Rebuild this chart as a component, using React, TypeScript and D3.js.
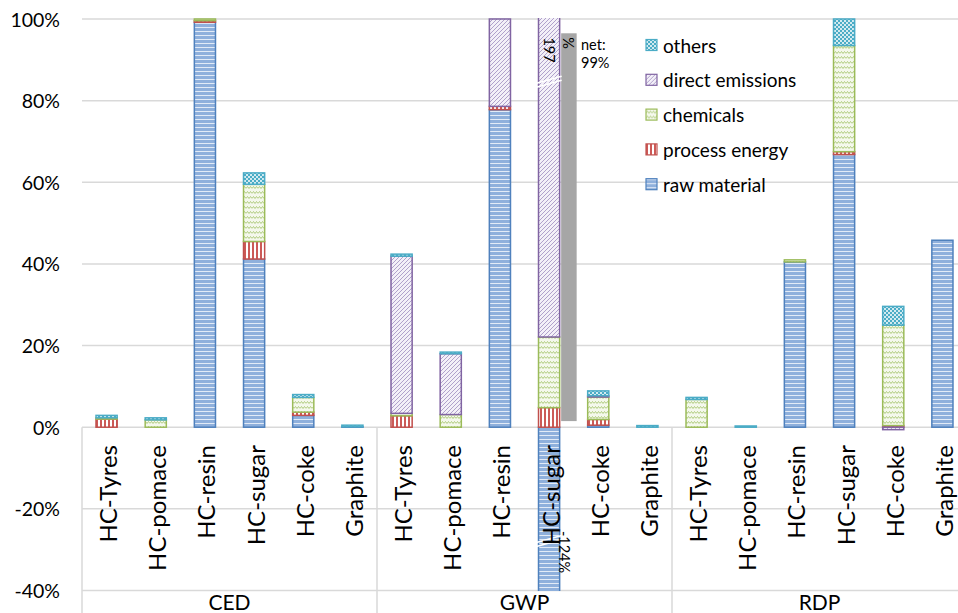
import React from "react";
import * as d3 from "d3";

const groups = ["CED", "GWP", "RDP"];
const materials = ["HC-Tyres", "HC-pomace", "HC-resin", "HC-sugar", "HC-coke", "Graphite"];

// values in % , group-major (CED x6, GWP x6, RDP x6)
const rawMaterial = [0, 0, 99.2, 41.2, 2.9, 0.1, 0, 0, 77.8, -124, 0.5, 0, 0, 0, 40.5, 66.8, 0, 45.8];
const processEnergy = [2.0, 0, 0.4, 4.3, 0.8, 0, 2.8, 0, 0.8, 4.8, 1.4, 0, 0, 0, 0, 0.7, 0.4, 0];
const chemicals = [0.3, 1.8, 0.4, 14.0, 3.6, 0, 0.6, 3.1, 0, 17.3, 5.5, 0, 6.8, 0, 0.5, 26.0, 24.6, 0];
const directEmissions = [0, 0, 0, 0, 0, 0, 38.5, 14.9, 21.4, 197, 0.3, 0, 0, 0, 0, 0, -0.6, 0];
const others = [0.6, 0.5, 0, 2.8, 0.7, 0.4, 0.5, 0.4, 0, 4, 1.2, 0.4, 0.5, 0.3, 0, 6.5, 4.6, 0];

const yTicks = [-40, -20, 0, 20, 40, 60, 80, 100];

// net bar next to GWP HC-sugar
const netLabel = ["net:", "99%"];
const netBar = [1.5, 96.5];
const breakValues = [85, -27.5];

const series = [
  { key: "raw", label: "raw material", color: "#4f81bd", values: rawMaterial },
  { key: "process", label: "process energy", color: "#c0504d", values: processEnergy },
  { key: "chemicals", label: "chemicals", color: "#9bbb59", values: chemicals },
  { key: "direct", label: "direct emissions", color: "#8064a2", values: directEmissions },
  { key: "others", label: "others", color: "#4bacc6", values: others },
];

const FONT = "Lato, 'Open Sans', sans-serif";

export default function App() {
  const y = d3.scaleLinear().domain([-40, 100]).range([590.5, 19]);
  const xGroup = d3.scaleBand<string>().domain(groups).range([82, 967]);
  const xMat = d3
    .scaleBand<string>()
    .domain(materials)
    .range([0, xGroup.bandwidth()])
    .paddingInner(0.57)
    .paddingOuter(0.285);

  const rows = groups.flatMap((g, gi) =>
    materials.map((m, mi) => {
      const i = gi * materials.length + mi;
      const row: any = { group: g, material: m };
      series.forEach(s => (row[s.key] = s.values[i]));
      return row;
    })
  );

  const stacked = d3
    .stack<any>()
    .keys(series.map(s => s.key))
    .offset(d3.stackOffsetDiverging)(rows);

  const barX = (r: any) => (xGroup(r.group) as number) + (xMat(r.material) as number);
  const bw = xMat.bandwidth();

  const sugarGWP = rows.find(r => r.group === "GWP" && r.material === "HC-sugar");
  const sx = barX(sugarGWP);

  return (
    <svg width={958} height={613} style={{ position: "absolute", left: 0, top: 0, fontFamily: FONT }}>
      <defs>
        <clipPath id="plot">
          <rect x={82} y={18} width={876} height={573} />
        </clipPath>
        <pattern id="p-raw" width="6" height="4" patternUnits="userSpaceOnUse">
          <rect width="6" height="4" fill="#8fb0dc" />
          <rect y="3" width="6" height="1" fill="#e2ebf7" />
        </pattern>
        <pattern id="p-process" width="4" height="4" patternUnits="userSpaceOnUse">
          <rect width="4" height="4" fill="#fff" />
          <rect width="2" height="4" fill="#cc5a57" />
        </pattern>
        <pattern id="p-chemicals" width="6" height="5" patternUnits="userSpaceOnUse">
          <rect width="6" height="5" fill="#f4f8ec" />
          <path d="M0,3.5 L1.5,1.5 L3,3.5 L4.5,1.5 L6,3.5" fill="none" stroke="#a9c673" strokeWidth="0.9" />
        </pattern>
        <pattern id="p-direct" width="4" height="4" patternUnits="userSpaceOnUse">
          <rect width="4" height="4" fill="#f3f0f8" />
          <path d="M-1,1 l2,-2 M0,4 l4,-4 M3,5 l2,-2" stroke="#b0a1cb" strokeWidth="1" />
        </pattern>
        <pattern id="p-others" width="4" height="4" patternUnits="userSpaceOnUse">
          <rect width="4" height="4" fill="#4bacc6" />
          <circle cx="1" cy="1" r="1" fill="#fff" />
          <circle cx="3" cy="3" r="1" fill="#fff" />
        </pattern>
      </defs>

      {/* gridlines */}
      {yTicks.map(t => (
        <g key={t}>
          <line x1={82} x2={958} y1={y(t)} y2={y(t)} stroke="#d9d9d9" strokeWidth={1.5} />
          <text x={60} y={y(t)} textAnchor="end" dominantBaseline="central" fontSize={19.5}>
            {t}%
          </text>
        </g>
      ))}
      {/* group separators */}
      {groups.map(g => (
        <line key={g} x1={xGroup(g)} x2={xGroup(g)} y1={y(0)} y2={613} stroke="#d9d9d9" strokeWidth={1.5} />
      ))}

      {/* bars */}
      <g clipPath="url(#plot)">
        {stacked.map((layer, li) =>
          layer.map((d, i) => {
            const h = Math.abs(y(d[0]) - y(d[1]));
            if (h < 0.01) return null;
            return (
              <rect
                key={li + "-" + i}
                x={barX(rows[i])}
                y={Math.min(y(d[0]), y(d[1]))}
                width={bw}
                height={h}
                fill={`url(#p-${series[li].key})`}
                stroke={series[li].color}
                strokeWidth={1.5}
              />
            );
          })
        )}
      </g>

      {/* net bar */}
      <rect x={sx + bw + 1.5} y={y(netBar[1])} width={15.5} height={y(netBar[0]) - y(netBar[1])} fill="#a6a6a6" />
      <text x={581} y={50} fontSize={14.5}>{netLabel[0]}</text>
      <text x={581} y={68} fontSize={14.5}>{netLabel[1]}</text>

      {/* axis break marks */}
      {breakValues.map(v => (
        <g key={v} stroke="#fff" strokeWidth={1.6}>
          <line x1={sx - 2} y1={y(v) + 3} x2={sx + bw + 2} y2={y(v) - 4} />
          <line x1={sx - 2} y1={y(v) + 7} x2={sx + bw + 2} y2={y(v)} />
        </g>
      ))}
      <text transform={`translate(${sx + bw / 2},50) rotate(90)`} textAnchor="middle" dominantBaseline="central" fontSize={14.5}>
        197
      </text>
      <text transform={`translate(${sx + bw + 9},43) rotate(90)`} textAnchor="middle" dominantBaseline="central" fontSize={14.5}>
        %
      </text>
      <text transform={`translate(${sx + bw + 5},552) rotate(90)`} textAnchor="middle" dominantBaseline="central" fontSize={14.5}>
        -124%
      </text>

      {/* category labels */}
      {rows.map((r, i) => (
        <text
          key={i}
          transform={`translate(${barX(r) + bw / 2 + 1},445) rotate(-90)`}
          textAnchor="end"
          dominantBaseline="central"
          fontSize={24}
        >
          {r.material}
        </text>
      ))}
      {groups.map(g => (
        <text
          key={g}
          x={(xGroup(g) as number) + 147.5}
          y={601}
          textAnchor="middle"
          dominantBaseline="central"
          fontSize={21}
        >
          {g}
        </text>
      ))}

      {/* legend */}
      {series
        .slice()
        .reverse()
        .map((s, i) => (
          <g key={s.key} transform={`translate(646,${45 + i * 34.8})`}>
            <rect x={0} y={-5.5} width={11} height={11} fill={`url(#p-${s.key})`} stroke={s.color} strokeWidth={1.2} />
            <text x={17} y={0} dominantBaseline="central" fontSize={19}>
              {s.label}
            </text>
          </g>
        ))}
    </svg>
  );
}
